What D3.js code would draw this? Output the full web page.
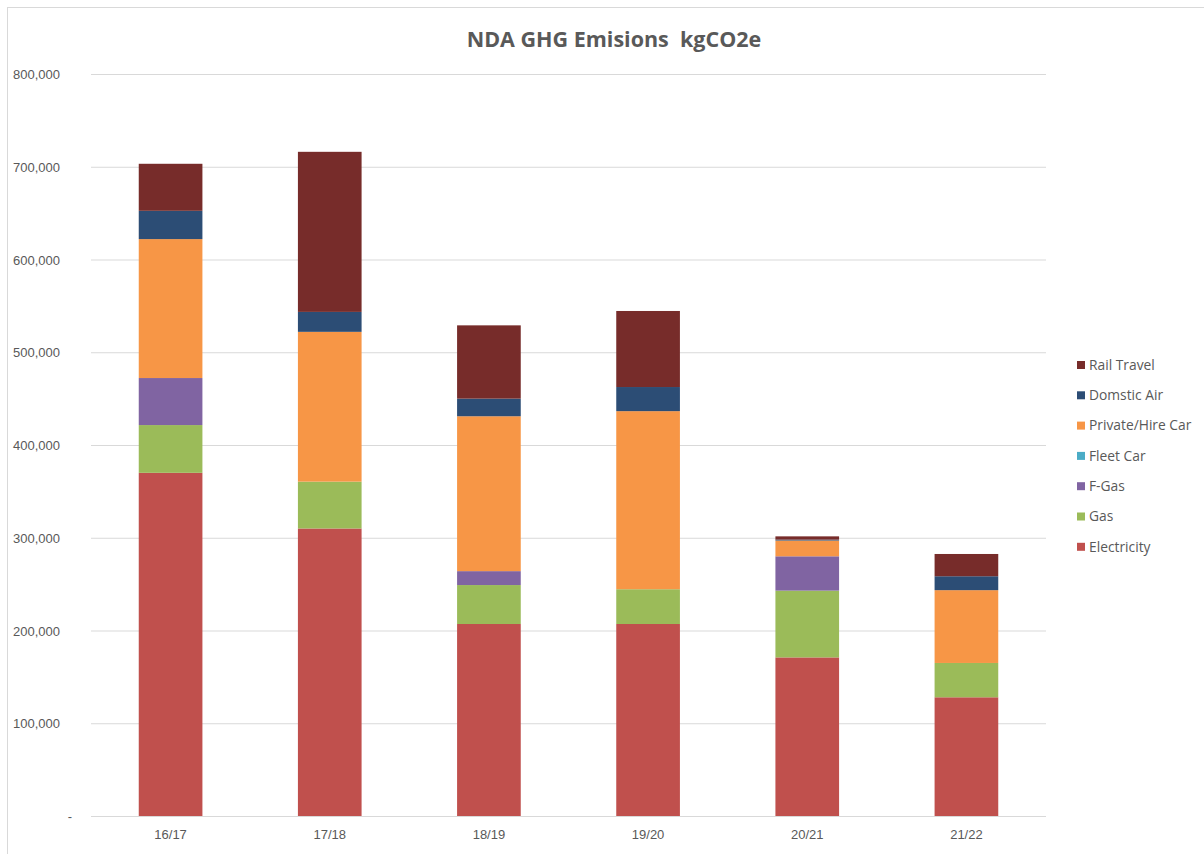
<!DOCTYPE html>
<html>
<head>
<meta charset="utf-8">
<script src="https://cdn.jsdelivr.net/npm/d3@7"></script>
<style>
  body { margin: 0; background: #fff; }
  svg { display: block; font-family: "Open Sans", "Liberation Sans", sans-serif; }
</style>
</head>
<body>
<svg id="chart" width="1204" height="854"></svg>
<script>
'use strict'

const years = ['16/17', '17/18', '18/19', '19/20', '20/21', '21/22']
const electricity = [370000, 310000, 207000, 207000, 171000, 128000]
const gas = [51500, 50500, 42000, 37500, 72000, 37000]
const fGas = [50700, 0, 15000, 0, 37000, 0]
const fleetCar = [0, 0, 0, 0, 0, 0]
const privateHireCar = [149800, 161500, 167000, 192000, 17000, 78500]
const domesticAir = [30500, 21500, 19000, 26000, 1000, 15000]
const railTravel = [50700, 172600, 79000, 82000, 3500, 24000]
const yTicks = [0, 100000, 200000, 300000, 400000, 500000, 600000, 700000, 800000]

const series = [
    { name: 'Electricity', values: electricity, color: '#c0504d' },
    { name: 'Gas', values: gas, color: '#9bbb59' },
    { name: 'F-Gas', values: fGas, color: '#8064a2' },
    { name: 'Fleet Car', values: fleetCar, color: '#4bacc6' },
    { name: 'Private/Hire Car', values: privateHireCar, color: '#f79646' },
    { name: 'Domstic Air', values: domesticAir, color: '#2c4d75' },
    { name: 'Rail Travel', values: railTravel, color: '#772c2a' }
]

const rows = years.map((y, i) => {
    const r = { year: y }
    series.forEach(s => { r[s.name] = s.values[i] })
    return r
})

const svg = d3.select('#chart')
const plotLeft = 91
const plotRight = 1046
const plotTop = 74
const plotBottom = 816

// frame
svg.append('rect')
    .attr('x', 7.5).attr('y', 7.5)
    .attr('width', 1220).attr('height', 870)
    .attr('fill', 'none')
    .attr('stroke', '#d9d9d9')

const x = d3.scaleBand()
    .domain(years)
    .range([plotLeft, plotRight])
    .paddingInner(0.6)
    .paddingOuter(0.3)

const y = d3.scaleLinear()
    .domain([0, 800000])
    .range([plotBottom, plotTop])

// gridlines
svg.append('g')
    .selectAll('line')
    .data(yTicks)
    .join('line')
    .attr('x1', plotLeft)
    .attr('x2', plotRight)
    .attr('y1', d => y(d) + 0.5)
    .attr('y2', d => y(d) + 0.5)
    .attr('stroke', '#d9d9d9')
    .attr('stroke-width', 1)

// y axis labels
const yAxis = svg.append('g')
    .attr('transform', `translate(${plotLeft - 31},0)`)
    .call(d3.axisLeft(y)
        .tickValues(yTicks)
        .tickSize(0)
        .tickFormat(d => d === 0 ? '-' : d3.format(',')(d)))
yAxis.select('.domain').remove()
yAxis.selectAll('text')
    .attr('fill', '#595959')
    .attr('font-size', 13)
    .attr('dy', '0.35em')
    .attr('x', d => d === 0 ? 12 : 0)

// stacked bars
const stack = d3.stack().keys(series.map(s => s.name))
const layers = stack(rows)

svg.append('g')
    .selectAll('g')
    .data(layers)
    .join('g')
    .attr('fill', (d, i) => series[i].color)
    .selectAll('rect')
    .data(d => d)
    .join('rect')
    .attr('x', d => x(d.data.year))
    .attr('width', x.bandwidth())
    .attr('y', d => y(d[1]))
    .attr('height', d => y(d[0]) - y(d[1]))

// x axis labels
const xAxis = svg.append('g')
    .attr('transform', `translate(0,${plotBottom + 8})`)
    .call(d3.axisBottom(x).tickSize(0))
xAxis.select('.domain').remove()
xAxis.selectAll('text')
    .attr('fill', '#595959')
    .attr('font-size', 13)
    .attr('dy', '0.9em')

// title
svg.append('text')
    .attr('x', 614)
    .attr('y', 47)
    .attr('text-anchor', 'middle')
    .attr('fill', '#595959')
    .attr('font-size', 21.5)
    .attr('font-weight', 'bold')
    .style('white-space', 'pre')
    .text('NDA GHG Emisions  kgCO2e')

// legend (reverse order, top is Rail Travel)
const legendItems = series.slice().reverse()
const legend = svg.append('g')
    .selectAll('g')
    .data(legendItems)
    .join('g')
    .attr('transform', (d, i) => `translate(1077,${365 + i * 30.3})`)
legend.append('rect')
    .attr('x', 0).attr('y', -4)
    .attr('width', 8).attr('height', 8)
    .attr('fill', d => d.color)
legend.append('text')
    .attr('x', 12)
    .attr('y', 0)
    .attr('dy', '0.35em')
    .attr('fill', '#595959')
    .attr('font-size', 13.8)
    .text(d => d.name)
</script>
</body>
</html>
